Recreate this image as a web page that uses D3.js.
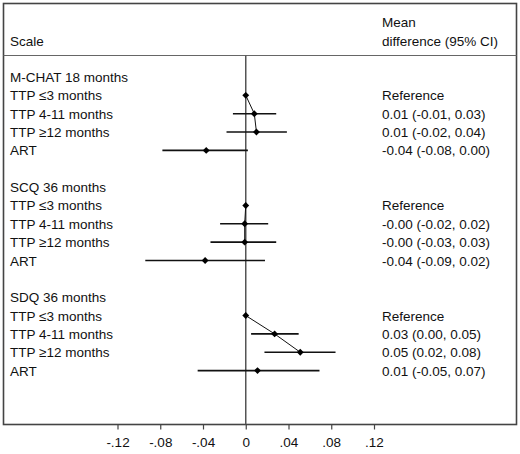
<!DOCTYPE html>
<html>
<head>
<meta charset="utf-8">
<script src="https://cdn.jsdelivr.net/npm/d3@7"></script>
<style>
  html, body { margin: 0; padding: 0; background: #fff; }
  text { font-family: "Liberation Sans", Arial, sans-serif; font-size: 13.5px; fill: #111; }
</style>
</head>
<body>
<svg id="chart" width="520" height="454"></svg>
<script>
// ---- data ----
const scales = ["M-CHAT 18 months", "SCQ 36 months", "SDQ 36 months"];
const groups = ["TTP \u22643 months", "TTP 4-11 months", "TTP \u226512 months", "ART"];
const estimates = [
  [0, 0.008, 0.010, -0.037],
  [0, -0.001, -0.001, -0.038],
  [0, 0.027, 0.051, 0.011]
];
const lowerCI = [
  [null, -0.012, -0.018, -0.078],
  [null, -0.024, -0.033, -0.094],
  [null, 0.005, 0.0175, -0.045]
];
const upperCI = [
  [null, 0.0285, 0.0385, 0.002],
  [null, 0.021, 0.0285, 0.018],
  [null, 0.0495, 0.084, 0.069]
];
const labels = [
  ["Reference", "0.01 (-0.01, 0.03)", "0.01 (-0.02, 0.04)", "-0.04 (-0.08, 0.00)"],
  ["Reference", "-0.00 (-0.02, 0.02)", "-0.00 (-0.03, 0.03)", "-0.04 (-0.09, 0.02)"],
  ["Reference", "0.03 (0.00, 0.05)", "0.05 (0.02, 0.08)", "0.01 (-0.05, 0.07)"]
];
const tickValues = [-0.12, -0.08, -0.04, 0, 0.04, 0.08, 0.12];
const tickLabels = ["-.12", "-.08", "-.04", "0", ".04", ".08", ".12"];

// ---- layout ----
const svg = d3.select("#chart");
const box = { left: 3.5, right: 516.5, top: 3.5, bottom: 424.5 };
const headerY = 55.5;
const x = d3.scaleLinear().domain([-0.12, 0.12]).range([117.5, 374]);
const y = d3.scaleLinear().domain([0, 16]).range([77, 370.6]);

// frame
svg.append("rect")
  .attr("x", box.left).attr("y", box.top)
  .attr("width", box.right - box.left).attr("height", box.bottom - box.top)
  .attr("fill", "none").attr("stroke", "#444").attr("stroke-width", 1.6);
svg.append("line")
  .attr("x1", box.left).attr("x2", box.right)
  .attr("y1", headerY).attr("y2", headerY)
  .attr("stroke", "#666").attr("stroke-width", 1);

// headers
svg.append("text").attr("x", 10).attr("y", 46).text("Scale");
svg.append("text").attr("x", 382).attr("y", 27).text("Mean");
svg.append("text").attr("x", 382).attr("y", 46).text("difference (95% CI)");

// zero line
svg.append("line")
  .attr("x1", x(0)).attr("x2", x(0))
  .attr("y1", headerY).attr("y2", box.bottom)
  .attr("stroke", "#555").attr("stroke-width", 1.5);

// axis
const axis = d3.axisBottom(x).tickValues(tickValues)
  .tickFormat((d, i) => tickLabels[i]).tickSize(5).tickPadding(8);
const ax = svg.append("g").attr("transform", `translate(0,${box.bottom})`).call(axis);
ax.select(".domain").remove();
ax.selectAll("line").attr("stroke", "#444").attr("stroke-width", 1.2);
ax.selectAll("text").attr("font-family", "Liberation Sans, Arial, sans-serif")
  .attr("font-size", "13.5px").attr("fill", "#111");

// rows
scales.forEach((s, si) => {
  const base = si * 6;
  svg.append("text").attr("x", 10).attr("y", y(base) + 5).text(s);
  groups.forEach((g, gi) => {
    const r = base + 1 + gi;
    svg.append("text").attr("x", 10).attr("y", y(r) + 5).text(g);
    svg.append("text").attr("x", 382).attr("y", y(r) + 5).text(labels[si][gi]);
    if (lowerCI[si][gi] !== null) {
      svg.append("line")
        .attr("x1", x(lowerCI[si][gi])).attr("x2", x(upperCI[si][gi]))
        .attr("y1", y(r)).attr("y2", y(r))
        .attr("stroke", "#111").attr("stroke-width", 1.6);
    }
  });
  // connecting line among TTP groups
  const pts = [0, 1, 2].map(gi => [x(estimates[si][gi]), y(base + 1 + gi)]);
  svg.append("path").attr("d", d3.line()(pts))
    .attr("fill", "none").attr("stroke", "#111").attr("stroke-width", 1);
  // markers
  groups.forEach((g, gi) => {
    const r = base + 1 + gi;
    svg.append("path")
      .attr("d", d3.symbol(d3.symbolDiamond2, 30)())
      .attr("transform", `translate(${x(estimates[si][gi])},${y(r)})`)
      .attr("fill", "#000");
  });
});
</script>
</body>
</html>
